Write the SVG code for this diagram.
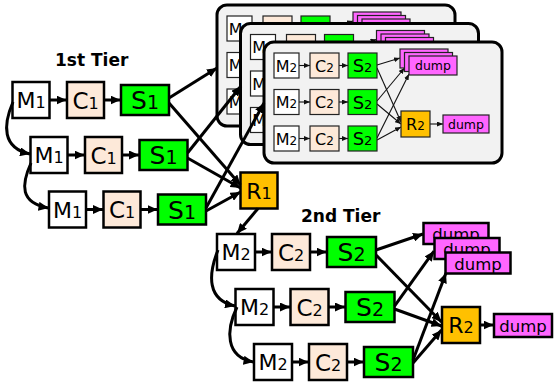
<svg xmlns="http://www.w3.org/2000/svg" xmlns:xlink="http://www.w3.org/1999/xlink" width="556" height="384" viewBox="0 0 556 384">
  <style>
    text { font-family: "DejaVu Sans", Verdana, sans-serif; fill: #000; text-anchor: middle; }
    .box { stroke: #000; stroke-width: 2.5; }
    .pbox { stroke: #222; stroke-width: 1.2; }
    .m { fill: #ffffff; }
    .c { fill: #fde9d9; }
    .s { fill: #00ff00; }
    .r { fill: #ffc000; }
    .d { fill: #ff66ff; }
    .panel { fill: #f2f2f2; stroke: #000; stroke-width: 3; }
    .big { font-size: 22px; }
    .sub { font-size: 16px; }
    .sbig { font-size: 25px; }
    .ssub { font-size: 19px; }
    .pt { font-size: 16px; }
    .psub { font-size: 12px; }
    .pst { font-size: 18px; }
    .pssub { font-size: 13px; }
    .dump { font-size: 16.5px; }
    .pdump { font-size: 12.5px; }
    .tier { font-size: 17px; font-weight: bold; text-anchor: start; }
    .arr { fill: none; stroke: #000; stroke-width: 3; marker-end: url(#ah); }
    .parr { fill: none; stroke: #111; stroke-width: 1.1; marker-end: url(#ahs); }
  </style>
  <defs>
    <marker id="ah" markerUnits="userSpaceOnUse" viewBox="0 0 10 9" refX="10" refY="4.5" markerWidth="10" markerHeight="9" orient="auto">
      <path d="M0,0 L10,4.5 L0,9 z" fill="#000"/>
    </marker>
    <marker id="ahs" markerUnits="userSpaceOnUse" viewBox="0 0 6 5" refX="6" refY="2.5" markerWidth="6" markerHeight="5" orient="auto">
      <path d="M0,0 L6,2.5 L0,5 z" fill="#111"/>
    </marker>

    <!-- one second-tier job: three map/combine/sort lanes feeding dumps and a reducer -->
    <g id="job">
      <rect class="panel" x="264" y="42" width="238" height="121" rx="10"/>
      <g class="parrows">
        <path class="parr" d="M299,65.5 H310"/>
        <path class="parr" d="M339,65.5 H348"/>
        <path class="parr" d="M299,102 H310"/>
        <path class="parr" d="M339,102 H348"/>
        <path class="parr" d="M299,138.5 H310"/>
        <path class="parr" d="M339,138.5 H348"/>
        <path class="parr" d="M377,65 L400,58"/>
        <path class="parr" d="M377,68 L401,122"/>
        <path class="parr" d="M377,101 L404.5,68"/>
        <path class="parr" d="M377,104 L401,124"/>
        <path class="parr" d="M377,138 L409,74"/>
        <path class="parr" d="M377,140 L401,127"/>
        <path class="parr" d="M430,124 H443"/>
      </g>
      <g class="pm">
        <rect class="pbox m" x="274" y="53" width="25" height="25"/>
        <text x="286.5" y="71.5" class="pt">M<tspan class="psub">2</tspan></text>
        <rect class="pbox m" x="274" y="89.5" width="25" height="25"/>
        <text x="286.5" y="108" class="pt">M<tspan class="psub">2</tspan></text>
        <rect class="pbox m" x="274" y="126" width="25" height="25"/>
        <text x="286.5" y="144.5" class="pt">M<tspan class="psub">2</tspan></text>
      </g>
      <g class="pc">
        <rect class="pbox c" x="310" y="53" width="29" height="25"/>
        <text x="324.5" y="71.5" class="pt">C<tspan class="psub">2</tspan></text>
        <rect class="pbox c" x="310" y="89.5" width="29" height="25"/>
        <text x="324.5" y="108" class="pt">C<tspan class="psub">2</tspan></text>
        <rect class="pbox c" x="310" y="126" width="29" height="25"/>
        <text x="324.5" y="144.5" class="pt">C<tspan class="psub">2</tspan></text>
      </g>
      <g class="ps">
        <rect class="pbox s" x="348" y="53" width="29" height="25"/>
        <text x="362.5" y="72" class="pst">S<tspan class="pssub">2</tspan></text>
        <rect class="pbox s" x="348" y="89.5" width="29" height="25"/>
        <text x="362.5" y="108.5" class="pst">S<tspan class="pssub">2</tspan></text>
        <rect class="pbox s" x="348" y="126" width="29" height="25"/>
        <text x="362.5" y="145" class="pst">S<tspan class="pssub">2</tspan></text>
      </g>
      <g class="pdumps">
        <rect class="pbox d" x="400" y="49" width="48" height="19"/>
        <rect class="pbox d" x="404.5" y="52.5" width="48" height="19"/>
        <rect class="pbox d" x="409" y="56" width="48" height="19"/>
        <text x="433" y="70" class="pdump">dump</text>
      </g>
      <g class="pr">
        <rect class="pbox r" x="401" y="111" width="29" height="26"/>
        <text x="415.5" y="130" class="pt">R<tspan class="psub">2</tspan></text>
      </g>
      <g class="prd">
        <rect class="pbox d" x="443" y="115" width="46" height="18"/>
        <text x="466" y="128.5" class="pdump">dump</text>
      </g>
    </g>
  </defs>

  <!-- stacked second-tier jobs -->
  <g id="job-stack">
    <use xlink:href="#job" href="#job" transform="translate(-47,-37)"/>
    <use xlink:href="#job" href="#job" transform="translate(-23.5,-18.5)"/>
    <use xlink:href="#job" href="#job"/>
  </g>

  <text x="55" y="66" class="tier">1st Tier</text>
  <text x="301" y="222" class="tier">2nd Tier</text>

  <!-- first tier nodes -->
  <g id="m1a"><rect class="box m" x="12.5" y="82" width="37" height="36"/><text x="31" y="108" class="big">M<tspan class="sub">1</tspan></text></g>
  <g id="c1a"><rect class="box c" x="67" y="82" width="37" height="36"/><text x="85.5" y="108.5" class="big" style="font-size:23px">C<tspan class="sub">1</tspan></text></g>
  <g id="s1a"><rect class="box s" x="121" y="85" width="48" height="30"/><text x="145" y="109" class="sbig">S<tspan class="ssub">1</tspan></text></g>

  <g id="m1b"><rect class="box m" x="30.5" y="137" width="37" height="36"/><text x="49" y="163" class="big">M<tspan class="sub">1</tspan></text></g>
  <g id="c1b"><rect class="box c" x="85" y="137" width="37" height="36"/><text x="103.5" y="163.5" class="big" style="font-size:23px">C<tspan class="sub">1</tspan></text></g>
  <g id="s1b"><rect class="box s" x="139.5" y="140" width="48" height="30"/><text x="163.5" y="164" class="sbig">S<tspan class="ssub">1</tspan></text></g>

  <g id="m1c"><rect class="box m" x="49" y="191.5" width="37" height="36"/><text x="67.5" y="217.5" class="big">M<tspan class="sub">1</tspan></text></g>
  <g id="c1c"><rect class="box c" x="103.5" y="191.5" width="37" height="36"/><text x="122" y="218" class="big" style="font-size:23px">C<tspan class="sub">1</tspan></text></g>
  <g id="s1c"><rect class="box s" x="158" y="194.5" width="48" height="30"/><text x="182" y="218.5" class="sbig">S<tspan class="ssub">1</tspan></text></g>

  <g id="r1"><rect class="box r" x="240.5" y="172.5" width="37" height="36"/><text x="259" y="198.5" class="big">R<tspan class="sub">1</tspan></text></g>

  <!-- second tier nodes -->
  <g id="m2a"><rect class="box m" x="217" y="234" width="38" height="36"/><text x="236" y="260" class="big">M<tspan class="sub">2</tspan></text></g>
  <g id="c2a"><rect class="box c" x="272" y="234" width="38" height="36"/><text x="291" y="260.5" class="big" style="font-size:23px">C<tspan class="sub">2</tspan></text></g>
  <g id="s2a"><rect class="box s" x="327" y="237" width="49" height="30"/><text x="351.5" y="261" class="sbig">S<tspan class="ssub">2</tspan></text></g>

  <g id="m2b"><rect class="box m" x="235.5" y="289" width="38" height="36"/><text x="254.5" y="315" class="big">M<tspan class="sub">2</tspan></text></g>
  <g id="c2b"><rect class="box c" x="290.5" y="289" width="38" height="36"/><text x="309.5" y="315.5" class="big" style="font-size:23px">C<tspan class="sub">2</tspan></text></g>
  <g id="s2b"><rect class="box s" x="345.5" y="292" width="49" height="30"/><text x="370" y="316" class="sbig">S<tspan class="ssub">2</tspan></text></g>

  <g id="m2c"><rect class="box m" x="254" y="344" width="38" height="36"/><text x="273" y="370" class="big">M<tspan class="sub">2</tspan></text></g>
  <g id="c2c"><rect class="box c" x="309" y="344" width="38" height="36"/><text x="328" y="370.5" class="big" style="font-size:23px">C<tspan class="sub">2</tspan></text></g>
  <g id="s2c"><rect class="box s" x="364" y="347" width="49" height="30"/><text x="388.5" y="371" class="sbig">S<tspan class="ssub">2</tspan></text></g>

  <g id="dump-a"><rect class="box d" x="423.5" y="223" width="65" height="21"/><text x="456" y="240" class="dump">dump</text></g>
  <g id="dump-b"><rect class="box d" x="434.5" y="238" width="65" height="21"/><text x="467" y="255" class="dump">dump</text></g>
  <g id="dump-c"><rect class="box d" x="445.5" y="252.5" width="65" height="21"/><text x="478" y="269.5" class="dump">dump</text></g>

  <g id="r2"><rect class="box r" x="442" y="307" width="38" height="36"/><text x="461" y="333" class="big">R<tspan class="sub">2</tspan></text></g>
  <g id="dump-r"><rect class="box d" x="494" y="314" width="58" height="23"/><text x="523" y="331.5" class="dump">dump</text></g>

  <!-- connectors -->
  <g id="connectors">
    <path class="arr" d="M49.5,100 H66.5"/>
    <path class="arr" d="M104,100 H120.5"/>
    <path class="arr" d="M67.5,155 H84.5"/>
    <path class="arr" d="M122,155 H139"/>
    <path class="arr" d="M86,209.5 H103"/>
    <path class="arr" d="M140.5,209.5 H157.5"/>
    <path class="arr" d="M13,102 C3,125 2,148 30,154"/>
    <path class="arr" d="M31,163 C21,185 20,203 48.5,208"/>

    <path class="arr" d="M169,98 L217,68"/>
    <path class="arr" d="M169,103 L240.5,185"/>
    <path class="arr" d="M187.5,153 L241,86"/>
    <path class="arr" d="M187.5,158 L240.5,188"/>
    <path class="arr" d="M206,208 L264,103"/>
    <path class="arr" d="M206,211 L240.5,192"/>
    <path class="arr" d="M258,208.5 L237,233.5"/>

    <path class="arr" d="M255,252 H271.5"/>
    <path class="arr" d="M310,252 H326.5"/>
    <path class="arr" d="M273.5,307 H290"/>
    <path class="arr" d="M328.5,307 H345"/>
    <path class="arr" d="M292,362 H308.5"/>
    <path class="arr" d="M347,362 H363.5"/>
    <path class="arr" d="M218,250 C208,275 207,300 235,306"/>
    <path class="arr" d="M237,307 C226,330 225,357 253.5,362"/>

    <path class="arr" d="M376,250 L423,234"/>
    <path class="arr" d="M376,255 L441.5,322"/>
    <path class="arr" d="M394.5,306 L434,251"/>
    <path class="arr" d="M394.5,309 L441.5,326"/>
    <path class="arr" d="M413,360 L446,273"/>
    <path class="arr" d="M413,363 L441.5,330"/>
    <path class="arr" d="M480,325 H493.5"/>
  </g>
</svg>
